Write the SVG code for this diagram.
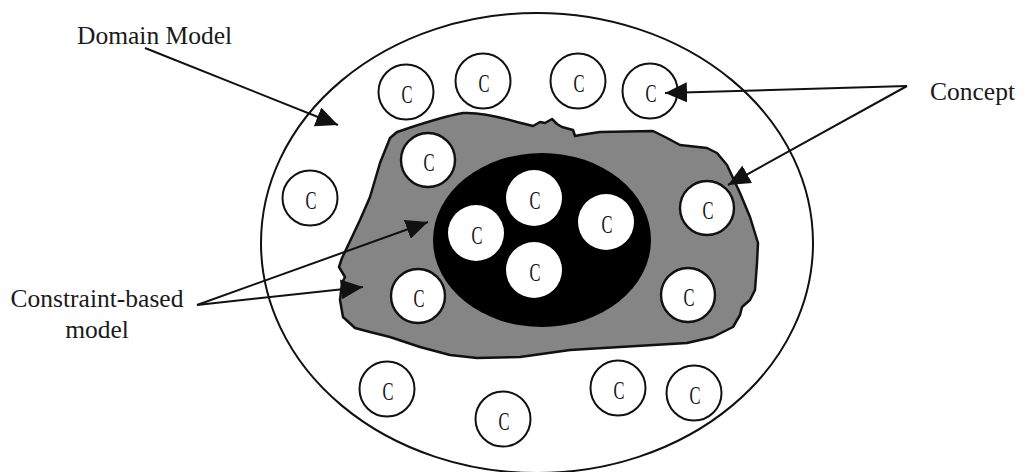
<svg xmlns="http://www.w3.org/2000/svg" width="1033" height="472" viewBox="0 0 1033 472">
<style>
.lbl{font-family:"Liberation Serif","Times New Roman",serif;font-size:25.5px;fill:#1a1a1a}
.c{font-family:"Liberation Serif","Times New Roman",serif;font-size:26px;fill:#111;text-anchor:middle}
.oc{fill:#fff;stroke:#111;stroke-width:2}
.bc{fill:#fff;stroke:#111;stroke-width:2.4}
.ic{fill:#fff;stroke:none}
.arr{stroke:#111;stroke-width:2;fill:none;marker-end:url(#ah)}
</style>
<defs>
<marker id="ah" markerUnits="userSpaceOnUse" markerWidth="24" markerHeight="22" refX="22" refY="10" orient="auto">
<path d="M0,0 L22,10 L0,20 Z" fill="#111"/>
</marker>
</defs>
<rect width="1033" height="472" fill="#fff"/>
<g id="domain-model">
<ellipse cx="537" cy="243" rx="276" ry="230" fill="#fff" stroke="#111" stroke-width="2"/>
</g>
<g id="outer-concepts">
<g id="c1"><circle class="oc" cx="406" cy="92" r="27.5"/><text class="c" x="407" y="102.5" textLength="11" lengthAdjust="spacingAndGlyphs">C</text></g>
<g id="c2"><circle class="oc" cx="483" cy="81" r="27.5"/><text class="c" x="484" y="91.5" textLength="11" lengthAdjust="spacingAndGlyphs">C</text></g>
<g id="c3"><circle class="oc" cx="578" cy="81" r="27.5"/><text class="c" x="579" y="91.5" textLength="11" lengthAdjust="spacingAndGlyphs">C</text></g>
<g id="c4"><circle class="oc" cx="650" cy="91" r="27.5"/><text class="c" x="651" y="101.5" textLength="11" lengthAdjust="spacingAndGlyphs">C</text></g>
<g id="c5"><circle class="oc" cx="310" cy="198" r="27.5"/><text class="c" x="311" y="208.5" textLength="11" lengthAdjust="spacingAndGlyphs">C</text></g>
<g id="c6"><circle class="oc" cx="387" cy="389" r="27.5"/><text class="c" x="388" y="399.5" textLength="11" lengthAdjust="spacingAndGlyphs">C</text></g>
<g id="c7"><circle class="oc" cx="503" cy="419" r="27.5"/><text class="c" x="504" y="429.5" textLength="11" lengthAdjust="spacingAndGlyphs">C</text></g>
<g id="c8"><circle class="oc" cx="618" cy="388" r="27.5"/><text class="c" x="619" y="398.5" textLength="11" lengthAdjust="spacingAndGlyphs">C</text></g>
<g id="c9"><circle class="oc" cx="694" cy="393" r="27.5"/><text class="c" x="695" y="403.5" textLength="11" lengthAdjust="spacingAndGlyphs">C</text></g>
</g>
<g id="constraint-based-model">
<path d="M390,138 L397,132 C412,127 440,117 463,113 C480,112 500,117 517,122 L533,126 L540,122 L545,123 L552,119 L557,124 L562,127 L573,130 L575,136 L580,135 L600,132 L653,131 L667,138 L680,145 L707,148 L717,153 L727,165 L733,178 L740,193 L750,217 L758,243 L757,263 L755,290 L750,300 L742,307 L740,315 L733,327 L713,337 L687,343 L620,347 L570,350 L520,357 L477,358 L450,355 L420,347 L390,337 L370,332 L355,328 L343,317 L340,300 L342,283 L345,277 L339,267 L342,258 L352,237 L360,220 L370,197 L380,163 Z" fill="#858585" stroke="#111" stroke-width="2.5" stroke-linejoin="round"/>
<g id="b1"><circle class="bc" cx="428" cy="160" r="27"/><text class="c" x="429" y="170.5" textLength="11" lengthAdjust="spacingAndGlyphs">C</text></g>
<g id="b2"><circle class="bc" cx="418" cy="296" r="27"/><text class="c" x="419" y="306.5" textLength="11" lengthAdjust="spacingAndGlyphs">C</text></g>
<g id="b3"><circle class="bc" cx="707" cy="208" r="27"/><text class="c" x="708" y="218.5" textLength="11" lengthAdjust="spacingAndGlyphs">C</text></g>
<g id="b4"><circle class="bc" cx="688" cy="295" r="27"/><text class="c" x="689" y="305.5" textLength="11" lengthAdjust="spacingAndGlyphs">C</text></g>
</g>
<g id="core">
<ellipse cx="542" cy="240" rx="109" ry="87" fill="#000"/>
<g id="i1"><circle class="ic" cx="534" cy="198" r="28"/><text class="c" x="535" y="208.5" textLength="11" lengthAdjust="spacingAndGlyphs">C</text></g>
<g id="i2"><circle class="ic" cx="476" cy="233" r="28"/><text class="c" x="477" y="243.5" textLength="11" lengthAdjust="spacingAndGlyphs">C</text></g>
<g id="i3"><circle class="ic" cx="606" cy="222" r="28"/><text class="c" x="607" y="232.5" textLength="11" lengthAdjust="spacingAndGlyphs">C</text></g>
<g id="i4"><circle class="ic" cx="534" cy="270" r="28"/><text class="c" x="535" y="280.5" textLength="11" lengthAdjust="spacingAndGlyphs">C</text></g>
</g>
<g id="connectors">
<line class="arr" x1="145" y1="48" x2="338" y2="125"/>
<line class="arr" x1="907" y1="86" x2="665" y2="93"/>
<line class="arr" x1="907" y1="86" x2="728" y2="185"/>
<line class="arr" x1="197" y1="305" x2="428" y2="222"/>
<line class="arr" x1="197" y1="305" x2="363" y2="287"/>
</g>
<g id="labels">
<text class="lbl" x="77" y="44">Domain Model</text>
<text class="lbl" x="930" y="100">Concept</text>
<text class="lbl" x="97" y="307" text-anchor="middle">Constraint-based</text>
<text class="lbl" x="97" y="338" text-anchor="middle">model</text>
</g>
</svg>
